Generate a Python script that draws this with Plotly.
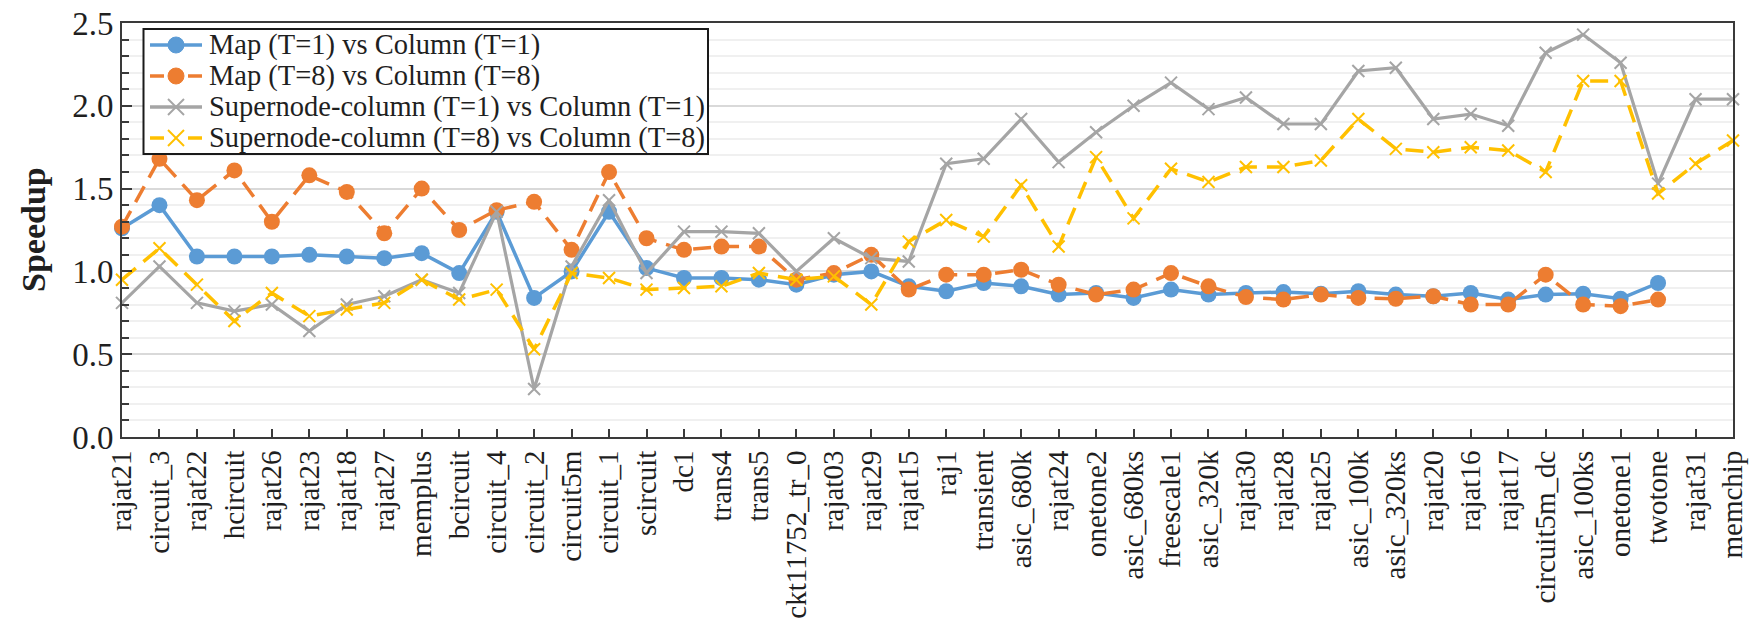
import plotly.graph_objects as go

# Benchmark matrices (x axis)
matrices = [
    "rajat21", "circuit_3", "rajat22", "hcircuit", "rajat26", "rajat23", "rajat18",
    "rajat27", "memplus", "bcircuit", "circuit_4", "circuit_2", "circuit5m", "circuit_1",
    "scircuit", "dc1", "trans4", "trans5", "ckt11752_tr_0", "rajat03", "rajat29",
    "rajat15", "raj1", "transient", "asic_680k", "rajat24", "onetone2", "asic_680ks",
    "freescale1", "asic_320k", "rajat30", "rajat28", "rajat25", "asic_100k",
    "asic_320ks", "rajat20", "rajat16", "rajat17", "circuit5m_dc", "asic_100ks",
    "onetone1", "twotone", "rajat31", "memchip",
]

# Speedup of each method over the column-based baseline
map_t1 = [1.26, 1.40, 1.09, 1.09, 1.09, 1.10, 1.09, 1.08, 1.11, 0.99, 1.36, 0.84, 1.00, 1.36,
          1.02, 0.96, 0.96, 0.95, 0.92, 0.98, 1.00, 0.91, 0.88, 0.93, 0.91, 0.86, 0.87, 0.84,
          0.89, 0.86, 0.87, 0.875, 0.865, 0.88, 0.86, 0.85, 0.87, 0.83, 0.86, 0.865, 0.835,
          0.93, None, None]
map_t8 = [1.27, 1.68, 1.43, 1.61, 1.30, 1.58, 1.48, 1.23, 1.50, 1.25, 1.37, 1.42, 1.13, 1.60,
          1.20, 1.13, 1.15, 1.15, 0.95, 0.99, 1.10, 0.89, 0.98, 0.98, 1.01, 0.92, 0.86, 0.89,
          0.99, 0.91, 0.845, 0.83, 0.86, 0.84, 0.835, 0.85, 0.80, 0.80, 0.98, 0.80, 0.79,
          0.83, None, None]
supernode_t1 = [0.81, 1.03, 0.81, 0.76, 0.80, 0.64, 0.80, 0.85, 0.95, 0.87, 1.36, 0.29, 1.03,
                1.43, 0.99, 1.24, 1.24, 1.23, 1.00, 1.20, 1.08, 1.06, 1.65, 1.68, 1.92, 1.66,
                1.84, 2.00, 2.14, 1.98, 2.05, 1.89, 1.89, 2.21, 2.23, 1.92, 1.95, 1.88, 2.32,
                2.43, 2.26, 1.53, 2.04, 2.04]
supernode_t8 = [0.95, 1.14, 0.92, 0.70, 0.87, 0.73, 0.77, 0.81, 0.95, 0.83, 0.89, 0.53, 0.99,
                0.96, 0.89, 0.90, 0.91, 0.99, 0.95, 0.97, 0.80, 1.18, 1.31, 1.21, 1.52, 1.15,
                1.69, 1.32, 1.62, 1.54, 1.63, 1.63, 1.67, 1.92, 1.74, 1.72, 1.75, 1.73, 1.60,
                2.15, 2.15, 1.47, 1.65, 1.79]

series_names = [
    "Map (T=1) vs Column (T=1)",
    "Map (T=8) vs Column (T=8)",
    "Supernode-column (T=1) vs Column (T=1)",
    "Supernode-column (T=8) vs Column (T=8)",
]

SERIF = "Liberation Serif"
TEXT = "#1f1f1f"
DASH = "18px,10px"

styles = [
    dict(color="#5B9BD5", dash="solid", symbol="circle", size=16, width=3.5),
    dict(color="#ED7D31", dash=DASH, symbol="circle", size=16, width=3.5),
    dict(color="#A5A5A5", dash="solid", symbol="x-thin-open", size=12, width=3.2),
    dict(color="#FFC000", dash=DASH, symbol="x-thin-open", size=12, width=3.5),
]
values = [map_t1, map_t8, supernode_t1, supernode_t8]

fig = go.Figure()
for name, vals, st in zip(series_names, values, styles):
    marker = dict(symbol=st["symbol"], size=st["size"], color=st["color"])
    if st["symbol"].startswith("x"):
        marker["line"] = dict(color=st["color"], width=2)
    fig.add_trace(go.Scatter(
        x=matrices, y=vals, name=name, mode="lines+markers",
        line=dict(color=st["color"], width=st["width"], dash=st["dash"]),
        marker=marker, cliponaxis=False, showlegend=False, connectgaps=False,
    ))

# page geometry (pixels)
W_PX, H_PX = 1760, 624
M_L, M_R, M_T, M_B = 122, 27, 23, 187
PW, PH = W_PX - M_L - M_R, H_PX - M_T - M_B


def px(x):
    return (x - M_L) / PW


def py(y):
    return (H_PX - M_B - y) / PH


# boxed legend in the upper-left corner of the plot
LX0, LX1 = 143.5, 708
SAMPLE_X0, SAMPLE_X1, MARK_X, TEXT_X = 150, 202, 176, 207
shapes = [dict(type="rect", xref="paper", yref="paper",
               x0=px(LX0), x1=px(LX1), y0=py(154), y1=py(29),
               line=dict(color="#1a1a1a", width=2), fillcolor="white", layer="above")]
annotations = []
row_y = [45, 76, 107, 138]
for name, st, ry in zip(series_names, styles, row_y):
    c = st["color"]
    if st["dash"] == "solid":
        shapes.append(dict(type="line", xref="paper", yref="paper",
                           x0=px(SAMPLE_X0), x1=px(SAMPLE_X1), y0=py(ry), y1=py(ry),
                           line=dict(color=c, width=3.5)))
    else:
        for a, b in ((SAMPLE_X0, SAMPLE_X0 + 14), (SAMPLE_X1 - 14, SAMPLE_X1)):
            shapes.append(dict(type="line", xref="paper", yref="paper",
                               x0=px(a), x1=px(b), y0=py(ry), y1=py(ry),
                               line=dict(color=c, width=3.5)))
    if st["symbol"] == "circle":
        r = 8
        shapes.append(dict(type="circle", xref="paper", yref="paper",
                           x0=px(MARK_X - r), x1=px(MARK_X + r), y0=py(ry + r), y1=py(ry - r),
                           line=dict(color=c, width=1), fillcolor=c))
    else:
        r = 8
        for s in (1, -1):
            shapes.append(dict(type="line", xref="paper", yref="paper",
                               x0=px(MARK_X - r), x1=px(MARK_X + r),
                               y0=py(ry - s * r), y1=py(ry + s * r),
                               line=dict(color=c, width=2)))
    annotations.append(dict(xref="paper", yref="paper", x=px(TEXT_X), y=py(ry),
                            xanchor="left", yanchor="middle", showarrow=False,
                            text=name, font=dict(family=SERIF, size=28.5, color=TEXT)))

annotations.append(dict(xref="paper", yref="paper", x=px(33), y=0.5,
                        xanchor="center", yanchor="middle", showarrow=False,
                        text="<b>Speedup</b>", textangle=-90,
                        font=dict(family=SERIF, size=34, color=TEXT)))

fig.update_layout(
    width=W_PX, height=H_PX,
    margin=dict(l=M_L, r=M_R, t=M_T, b=M_B, pad=0, autoexpand=False),
    paper_bgcolor="white", plot_bgcolor="white",
    font=dict(family=SERIF, color=TEXT),
    shapes=shapes, annotations=annotations,
    showlegend=False,
)
fig.update_xaxes(
    type="category", categoryorder="array", categoryarray=matrices,
    range=[0, len(matrices) - 1], automargin=False,
    showline=True, linecolor="#3a3a3a", linewidth=2, mirror=True,
    ticks="inside", ticklen=8, tickcolor="#3a3a3a", tickwidth=1.5,
    tickangle=-90, tickfont=dict(family=SERIF, size=29, color=TEXT),
    showgrid=False, zeroline=False,
)
fig.update_yaxes(
    range=[0, 2.5], dtick=0.5, tickformat=".1f", automargin=False,
    showline=True, linecolor="#3a3a3a", linewidth=2, mirror=True,
    ticks="inside", ticklen=10, tickcolor="#3a3a3a", tickwidth=1.5,
    tickfont=dict(family=SERIF, size=33, color=TEXT),
    showgrid=True, gridcolor="#d9d9d9", gridwidth=1.5, zeroline=False,
    minor=dict(dtick=0.1, showgrid=True, gridcolor="#f0f0f0", gridwidth=1.5,
               ticks="inside", ticklen=7, tickcolor="#3a3a3a"),
)

fig.write_html("out.html")
